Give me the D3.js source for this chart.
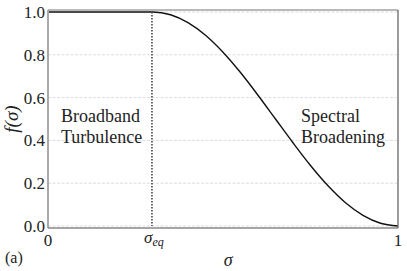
<!DOCTYPE html>
<html><head><meta charset="utf-8">
<script src="https://cdn.jsdelivr.net/npm/d3@7"></script>
</head><body style="margin:0">
<svg id="c" width="407" height="271"></svg>
<script>
const sigma = [0, 0.30, 0.35, 0.40, 0.45, 0.50, 0.55, 0.60, 0.65, 0.70, 0.75, 0.80, 0.85, 0.90, 0.95, 1.00];
const fvals = [1.0, 1.0, 0.987, 0.950, 0.891, 0.812, 0.717, 0.611, 0.500, 0.389, 0.283, 0.188, 0.109, 0.050, 0.013, 0.0];
const sigmaEq = 0.297;
const yTicks = [0.0, 0.2, 0.4, 0.6, 0.8, 1.0];
const yTickLabels = ["0.0", "0.2", "0.4", "0.6", "0.8", "1.0"];
const regionLabels = [["Broadband", "Turbulence"], ["Spectral", "Broadening"]];

const svg = d3.select("#c");
const L = 48, R = 398, T = 10, B = 228;
const x = d3.scaleLinear().domain([0, 1]).range([L, R]);
const y = d3.scaleLinear().domain([-0.0093, 1.0093]).range([B, T]);

// grid
svg.append("g").selectAll("line").data(yTicks).join("line")
  .attr("x1", L).attr("x2", R).attr("y1", d => y(d)).attr("y2", d => y(d))
  .attr("stroke", "#d4d4d4").attr("stroke-width", 0.8).attr("stroke-dasharray", "3,1.5");

// curve
const pts = sigma.map((s, i) => [s, fvals[i]]);
svg.append("path").datum(pts)
  .attr("d", d3.line().x(d => x(d[0])).y(d => y(d[1])).curve(d3.curveMonotoneX))
  .attr("fill", "none").attr("stroke", "#111").attr("stroke-width", 1.4);

// sigma_eq dotted line
svg.append("line").attr("x1", x(sigmaEq)).attr("x2", x(sigmaEq))
  .attr("y1", y(1)).attr("y2", y(0))
  .attr("stroke", "#444").attr("stroke-width", 1.6).attr("stroke-dasharray", "1.5,1.5");

// spines
svg.append("line").attr("x1", L).attr("x2", L).attr("y1", T).attr("y2", B).attr("stroke", "#aaa").attr("stroke-width", 2);
svg.append("line").attr("x1", L).attr("x2", R).attr("y1", B).attr("y2", B).attr("stroke", "#888").attr("stroke-width", 1.3);
svg.append("line").attr("x1", R).attr("x2", R).attr("y1", T).attr("y2", B).attr("stroke", "#666").attr("stroke-width", 1.3);
svg.append("line").attr("x1", L).attr("x2", R).attr("y1", T).attr("y2", T).attr("stroke", "#777").attr("stroke-width", 1.2);

// y tick labels
yTicks.forEach((d, i) => {
  svg.append("text").attr("font-family", "Liberation Serif").attr("font-size", 17).attr("fill", "#222")
    .attr("x", L - 3).attr("y", y(d) + 6).attr("text-anchor", "end").text(yTickLabels[i]);
});

// x tick labels
svg.append("text").attr("font-family", "Liberation Serif").attr("font-size", 17).attr("fill", "#222")
  .attr("x", x(0)).attr("y", 246).attr("text-anchor", "middle").text("0");
svg.append("text").attr("font-family", "Liberation Serif").attr("font-size", 17).attr("fill", "#222")
  .attr("x", x(1)).attr("y", 246).attr("text-anchor", "middle").text("1");
const eq = svg.append("text").attr("font-family", "Liberation Serif").attr("font-size", 17).attr("fill", "#222")
  .attr("font-style", "italic").attr("x", x(sigmaEq) + 2).attr("y", 243).attr("text-anchor", "middle");
eq.append("tspan").text("σ");
eq.append("tspan").attr("font-size", 12).attr("dy", 3).text("eq");

// axis labels
svg.append("text").attr("font-family", "Liberation Serif").attr("font-size", 18).attr("fill", "#222")
  .attr("font-style", "italic").attr("x", x(0.515)).attr("y", 266).attr("text-anchor", "middle").text("σ");
svg.append("text").attr("font-family", "Liberation Serif").attr("font-size", 19).attr("fill", "#222")
  .attr("font-style", "italic").attr("transform", `translate(18,${y(0.5)}) rotate(-90)`)
  .attr("text-anchor", "middle").text("f(σ)");
svg.append("text").attr("font-family", "Liberation Serif").attr("font-size", 16).attr("fill", "#222")
  .attr("x", 5).attr("y", 263).text("(a)");

// region labels
[[61, regionLabels[0]], [301, regionLabels[1]]].forEach(([px, lines]) => {
  lines.forEach((t, i) => svg.append("text").attr("font-family", "Liberation Serif").attr("font-size", 18)
    .attr("fill", "#222").attr("x", px).attr("y", 122 + i * 21).text(t));
});
</script></body></html>
